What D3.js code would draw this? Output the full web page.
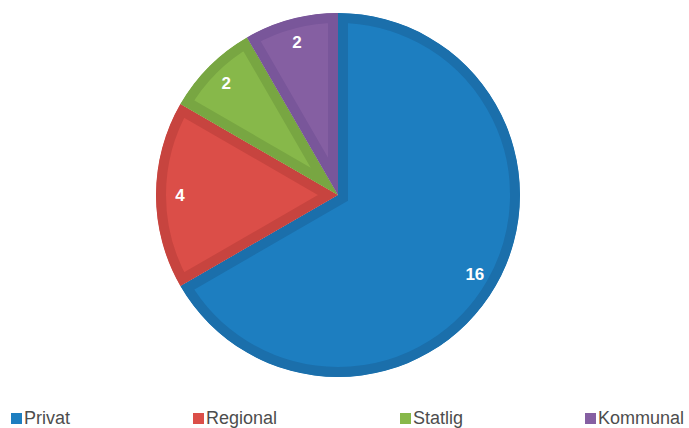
<!DOCTYPE html>
<html>
<head>
<meta charset="utf-8">
<script src="https://cdn.jsdelivr.net/npm/d3@7"></script>
<style>
  html, body { margin: 0; padding: 0; background: #fff; }
  svg { display: block; font-family: "Liberation Sans", Arial, sans-serif; }
</style>
</head>
<body>
<svg id="chart" width="689" height="428"></svg>
<script>
// Ownership categories and counts
const categories = ["Privat", "Regional", "Statlig", "Kommunal"];
const values = [16, 4, 2, 2];
const fillColors = ["#1d7ec0", "#db4e48", "#87b84a", "#855fa2"];
const edgeColors = ["#1b6fab", "#c7443f", "#78a642", "#79569a"];

const svg = d3.select("#chart");
const cx = 338, cy = 195, radius = 182, border = 10;

const pie = d3.pie().sort(null).value(d => d.value);
const arcs = pie(categories.map((c, i) => ({ name: c, value: values[i], i })));
const arc = d3.arc().innerRadius(0).outerRadius(radius);
const labelArc = d3.arc().innerRadius(158).outerRadius(158);

const defs = svg.append("defs");
const g = svg.append("g").attr("transform", `translate(${cx},${cy})`);

// Each slice: lighter fill with a darker inner border (stroke clipped to the slice)
arcs.forEach((a, k) => {
  const id = "clip" + k;
  defs.append("clipPath").attr("id", id).append("path").attr("d", arc(a));
  const sg = g.append("g").attr("clip-path", `url(#${id})`);
  sg.append("path")
    .attr("d", arc(a))
    .attr("fill", fillColors[a.data.i])
    .attr("stroke", edgeColors[a.data.i])
    .attr("stroke-width", border * 2)
    .attr("stroke-linejoin", "miter");
});

g.selectAll("text.val")
  .data(arcs)
  .join("text")
  .attr("class", "val")
  .attr("transform", d => `translate(${labelArc.centroid(d)})`)
  .attr("text-anchor", "middle")
  .attr("dominant-baseline", "central")
  .attr("fill", "#fff")
  .attr("font-weight", "bold")
  .attr("font-size", 17)
  .text(d => d.data.value);

// Legend row along the bottom
const legendX = [11, 193, 400, 585];
const legend = svg.append("g").selectAll("g")
  .data(categories)
  .join("g")
  .attr("transform", (d, i) => `translate(${legendX[i]},413)`);
legend.append("rect")
  .attr("width", 11).attr("height", 11)
  .attr("fill", (d, i) => fillColors[i]);
legend.append("text")
  .attr("x", 13).attr("y", 11)
  .attr("font-size", 18)
  .attr("fill", "#4d4d4d")
  .text(d => d);
</script>
</body>
</html>
